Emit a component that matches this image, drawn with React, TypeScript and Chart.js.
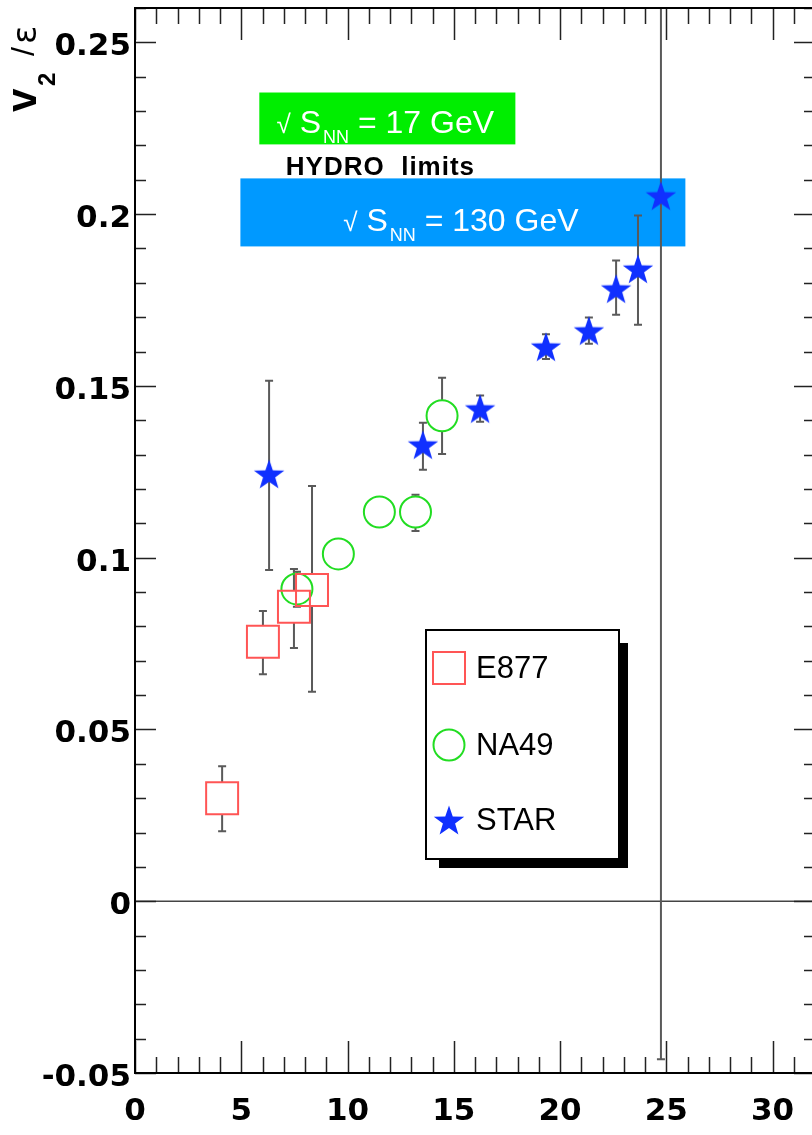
import React, { useEffect, useRef } from 'react';
import { Chart, registerables } from 'chart.js';

Chart.register(...registerables);

// ---- data ----
const e877X = [4.1, 6.02, 7.48, 8.33];
const e877Y = [0.030, 0.0755, 0.0857, 0.0906];
const e877Lo = [0.0204, 0.0661, 0.0737, 0.061];
const e877Hi = [0.0393, 0.0845, 0.0967, 0.1209];

const na49X = [7.62, 9.57, 11.5, 13.2, 14.45];
const na49Y = [0.0909, 0.1011, 0.1133, 0.1133, 0.1413];
const na49Lo = [0.0857, 0.0981, 0.1103, 0.1078, 0.1302];
const na49Hi = [0.0959, 0.1041, 0.1163, 0.1183, 0.1524];

const starX = [6.31, 13.55, 16.24, 19.34, 21.36, 22.64, 23.67, 24.75];
const starY = [0.1244, 0.1329, 0.1434, 0.1614, 0.1661, 0.1783, 0.1841, 0.2054];
const starLo = [0.0964, 0.1256, 0.1396, 0.1578, 0.1623, 0.1707, 0.1678, -0.046];
const starHi = [0.1515, 0.1393, 0.1472, 0.1650, 0.1699, 0.1865, 0.1996, 0.30];

const seriesNames = ['E877', 'NA49', 'STAR'];

const xMajorTicks = [0, 5, 10, 15, 20, 25, 30];
const xMinorTicks = [1, 2, 3, 4, 6, 7, 8, 9, 11, 12, 13, 14, 16, 17, 18, 19, 21, 22, 23, 24, 26, 27, 28, 29, 31, 32];
const yMajorTicks = [-0.05, 0, 0.05, 0.1, 0.15, 0.2, 0.25];
const yMinorTicks = [-0.04, -0.03, -0.02, -0.01, 0.01, 0.02, 0.03, 0.04, 0.06, 0.07, 0.08, 0.09, 0.11, 0.12, 0.13, 0.14, 0.16, 0.17, 0.18, 0.19, 0.21, 0.22, 0.23, 0.24, 0.26];

// HYDRO limit bands: [xStart, xEnd, yLow, yHigh]
const band17 = [5.85, 17.9, 0.2203, 0.2354];
const band130 = [4.96, 25.9, 0.1906, 0.2104];

const FONT = '"Liberation Sans", Arial, Helvetica, sans-serif';
const TICK_FONT = '"DejaVu Sans", "Liberation Sans", sans-serif';

function makeStar(R: number, color: string): HTMLCanvasElement {
  const size = Math.ceil(R * 2 + 2);
  const c = document.createElement('canvas');
  c.width = size;
  c.height = size;
  const ctx = c.getContext('2d')!;
  const cx = size / 2;
  const cy = size / 2 + R * 0.1;
  ctx.beginPath();
  for (let i = 0; i < 10; i++) {
    const r = i % 2 === 0 ? R : R * 0.4;
    const a = -Math.PI / 2 + (i * Math.PI) / 5;
    const px = cx + r * Math.cos(a);
    const py = cy + r * Math.sin(a);
    if (i === 0) ctx.moveTo(px, py);
    else ctx.lineTo(px, py);
  }
  ctx.closePath();
  ctx.fillStyle = color;
  ctx.fill();
  return c;
}

const RED = '#ff5555';
const GREEN = '#22dd22';
const BLUE = '#1030ff';

export default function App() {
  const ref = useRef<HTMLCanvasElement>(null);

  useEffect(() => {
    const canvas = ref.current!;
    const starImg = makeStar(16, BLUE);

    const drawSqrtLabel = (ctx: CanvasRenderingContext2D, cx: number, baseline: number, rest: string) => {
      const big = `32px ${FONT}`;
      const sub = `18px ${FONT}`;
      const rad = `26px ${FONT}`;
      ctx.font = rad;
      const wRad = ctx.measureText('\u221A').width;
      ctx.font = big;
      const wS = ctx.measureText(' S').width;
      ctx.font = sub;
      const wNN = ctx.measureText('NN').width;
      ctx.font = big;
      const wRest = ctx.measureText(rest).width;
      const total = wRad + wS + wNN + wRest + 2;
      let x = cx - total / 2;
      ctx.fillStyle = '#ffffff';
      ctx.textBaseline = 'alphabetic';
      ctx.textAlign = 'left';
      ctx.font = rad;
      ctx.fillText('\u221A', x, baseline);
      x += wRad;
      ctx.font = big;
      ctx.fillText(' S', x, baseline);
      x += wS + 2;
      ctx.font = sub;
      ctx.fillText('NN', x, baseline + 10);
      x += wNN;
      ctx.font = big;
      ctx.fillText(rest, x, baseline);
    };

    const overlay = {
      id: 'overlay',
      beforeDatasetsDraw(chart: any) {
        const { ctx, chartArea: ca, scales } = chart;
        const xs = scales.x;
        const ys = scales.y;
        ctx.save();
        ctx.beginPath();
        ctx.rect(ca.left, ca.top, ca.right - ca.left, ca.bottom - ca.top);
        ctx.clip();

        // bands
        const bands = [
          { b: band17, color: '#00ee00', rest: ' = 17 GeV', dy: 15 },
          { b: band130, color: '#0099ff', rest: ' = 130 GeV', dy: 19 },
        ];
        for (const { b, color, rest, dy } of bands) {
          const x0 = xs.getPixelForValue(b[0]);
          const x1 = xs.getPixelForValue(b[1]);
          const y0 = ys.getPixelForValue(b[3]);
          const y1 = ys.getPixelForValue(b[2]);
          ctx.fillStyle = color;
          ctx.fillRect(x0, y0, x1 - x0, y1 - y0);
          drawSqrtLabel(ctx, (x0 + x1) / 2 - 2, (y0 + y1) / 2 + dy, rest);
        }
        // HYDRO limits
        ctx.fillStyle = '#000';
        ctx.font = `bold 26px ${FONT}`;
        ctx.textAlign = 'center';
        ctx.textBaseline = 'alphabetic';
        (ctx as any).letterSpacing = '1px';
        ctx.fillText('HYDRO  limits', xs.getPixelForValue(11.55), ys.getPixelForValue(band17[2]) + 31);
        (ctx as any).letterSpacing = '0px';

        // zero line
        ctx.strokeStyle = '#444';
        ctx.lineWidth = 1.5;
        ctx.beginPath();
        const yz = ys.getPixelForValue(0);
        ctx.moveTo(ca.left, yz);
        ctx.lineTo(ca.right, yz);
        ctx.stroke();

        // error bars
        const groups = [
          { X: e877X, Y: e877Y, L: e877Lo, H: e877Hi, gap: 16 },
          { X: na49X, Y: na49Y, L: na49Lo, H: na49Hi, gap: 15.5 },
          { X: starX, Y: starY, L: starLo, H: starHi, gap: 0 },
        ];
        ctx.lineWidth = 2;
        ctx.strokeStyle = '#5a5a5a';
        for (const g of groups) {
          for (let i = 0; i < g.X.length; i++) {
            const px = xs.getPixelForValue(g.X[i]);
            const py = ys.getPixelForValue(g.Y[i]);
            const pl = ys.getPixelForValue(g.L[i]);
            const ph = ys.getPixelForValue(g.H[i]);
            ctx.beginPath();
            if (ph < py - g.gap) {
              ctx.moveTo(px, py - g.gap);
              ctx.lineTo(px, ph);
              ctx.moveTo(px - 4, ph);
              ctx.lineTo(px + 4, ph);
            }
            if (pl > py + g.gap) {
              ctx.moveTo(px, py + g.gap);
              ctx.lineTo(px, pl);
              ctx.moveTo(px - 4, pl);
              ctx.lineTo(px + 4, pl);
            }
            ctx.stroke();
          }
        }
        ctx.restore();
      },
      afterDatasetsDraw(chart: any) {
        const { ctx, chartArea: ca, scales } = chart;
        const xs = scales.x;
        const ys = scales.y;
        ctx.save();
        // ticks
        ctx.strokeStyle = '#222';
        ctx.lineWidth = 1.5;
        ctx.beginPath();
        const xt = (v: number, len: number) => {
          const p = Math.round(xs.getPixelForValue(v)) + 0.5;
          ctx.moveTo(p, ca.bottom);
          ctx.lineTo(p, ca.bottom - len);
          ctx.moveTo(p, ca.top);
          ctx.lineTo(p, ca.top + len);
        };
        const yt = (v: number, len: number) => {
          const p = Math.round(ys.getPixelForValue(v)) + 0.5;
          ctx.moveTo(ca.left, p);
          ctx.lineTo(ca.left + len, p);
          ctx.moveTo(ca.right, p);
          ctx.lineTo(ca.right - len, p);
        };
        xMajorTicks.forEach((v) => xt(v, 32));
        xMinorTicks.forEach((v) => xt(v, 16));
        yMajorTicks.forEach((v) => yt(v, 21));
        yMinorTicks.forEach((v) => yt(v, 11));
        ctx.stroke();
        // frame
        ctx.strokeStyle = '#000';
        ctx.lineWidth = 2;
        ctx.strokeRect(ca.left, ca.top, ca.right - ca.left, ca.bottom - ca.top);

        // legend
        const lx = 426, ly = 630, lw = 193, lh = 229;
        ctx.fillStyle = '#000';
        ctx.fillRect(lx + 13, ly + 13, lw - 4, lh - 4);
        ctx.fillStyle = '#fff';
        ctx.fillRect(lx, ly, lw, lh);
        ctx.strokeStyle = '#000';
        ctx.lineWidth = 2;
        ctx.strokeRect(lx, ly, lw, lh);
        const mx = 449;
        const rows = [668, 745, 820];
        // E877
        ctx.strokeStyle = RED;
        ctx.lineWidth = 2;
        ctx.strokeRect(mx - 16, rows[0] - 16, 32, 32);
        // NA49
        ctx.strokeStyle = GREEN;
        ctx.beginPath();
        ctx.arc(mx, rows[1], 15.5, 0, Math.PI * 2);
        ctx.stroke();
        // STAR
        ctx.drawImage(starImg, mx - starImg.width / 2, rows[2] - starImg.height / 2);
        ctx.fillStyle = '#000';
        ctx.font = `31px ${FONT}`;
        ctx.textAlign = 'left';
        ctx.textBaseline = 'middle';
        seriesNames.forEach((n, i) => ctx.fillText(n, 476, rows[i] + 1));

        // y title (rotated)
        ctx.translate(36, 112);
        ctx.rotate(-Math.PI / 2);
        ctx.textBaseline = 'alphabetic';
        ctx.textAlign = 'left';
        ctx.font = `bold 42px ${FONT}`;
        ctx.fillText('v', 0, 0);
        ctx.font = `bold 24px ${FONT}`;
        ctx.fillText('2', 26, 19);
        ctx.font = `32px ${FONT}`;
        ctx.fillText('/', 56, -2);
        ctx.font = `34px "DejaVu Sans", ${FONT}`;
        ctx.fillText('\u03B5', 68, 0);
        ctx.restore();
      },
    };

    const zeroPad = (s: any) => {
      s.paddingTop = 0;
      s.paddingBottom = 0;
      s.paddingLeft = 0;
      s.paddingRight = 0;
    };

    const chart = new Chart(canvas, {
      type: 'scatter',
      data: {
        datasets: [
          {
            label: seriesNames[0],
            data: e877X.map((x, i) => ({ x, y: e877Y[i] })),
            pointStyle: 'rect',
            pointRadius: 22.6,
            borderColor: RED,
            borderWidth: 2,
            backgroundColor: 'rgba(0,0,0,0)',
          },
          {
            label: seriesNames[1],
            data: na49X.map((x, i) => ({ x, y: na49Y[i] })),
            pointStyle: 'circle',
            pointRadius: 15.5,
            borderColor: GREEN,
            borderWidth: 2,
            backgroundColor: 'rgba(0,0,0,0)',
          },
          {
            label: seriesNames[2],
            data: starX.map((x, i) => ({ x, y: starY[i] })),
            pointStyle: starImg as any,
            pointRadius: 16,
            borderColor: BLUE,
            backgroundColor: BLUE,
          },
        ],
      },
      options: {
        animation: false,
        responsive: false,
        events: [],
        layout: { autoPadding: false, padding: { top: 8, right: 1, left: 0, bottom: 0 } },
        plugins: { legend: { display: false }, tooltip: { enabled: false } },
        scales: {
          x: {
            type: 'linear',
            min: 0,
            max: 32,
            afterBuildTicks: (s: any) => {
              s.ticks = xMajorTicks.map((v) => ({ value: v }));
            },
            afterFit: (s: any) => {
              s.height = 62;
              zeroPad(s);
            },
            grid: { display: false, drawTicks: false },
            border: { display: false },
            ticks: {
              autoSkip: false,
              maxRotation: 0,
              padding: 20,
              color: '#000',
              font: { family: TICK_FONT, weight: 'bold', size: 31 },
              callback: (v: any) => String(v),
            },
          },
          y: {
            type: 'linear',
            min: -0.05,
            max: 0.26,
            afterBuildTicks: (s: any) => {
              s.ticks = yMajorTicks.map((v) => ({ value: v }));
            },
            afterFit: (s: any) => {
              s.width = 135;
              zeroPad(s);
            },
            grid: { display: false, drawTicks: false },
            border: { display: false },
            ticks: {
              autoSkip: false,
              padding: 4,
              labelOffset: 5,
              color: '#000',
              font: { family: TICK_FONT, weight: 'bold', size: 31 },
              callback: (v: any) => String(Math.round(v * 100) / 100),
            },
          },
        },
      },
      plugins: [overlay],
    } as any);

    return () => chart.destroy();
  }, []);

  return (
    <div style={{ position: 'absolute', left: 0, top: 0, width: 812, height: 1135, overflow: 'hidden', background: '#fff' }}>
      <canvas ref={ref} width={816} height={1135} style={{ display: 'block', width: 816, height: 1135 }} />
    </div>
  );
}
